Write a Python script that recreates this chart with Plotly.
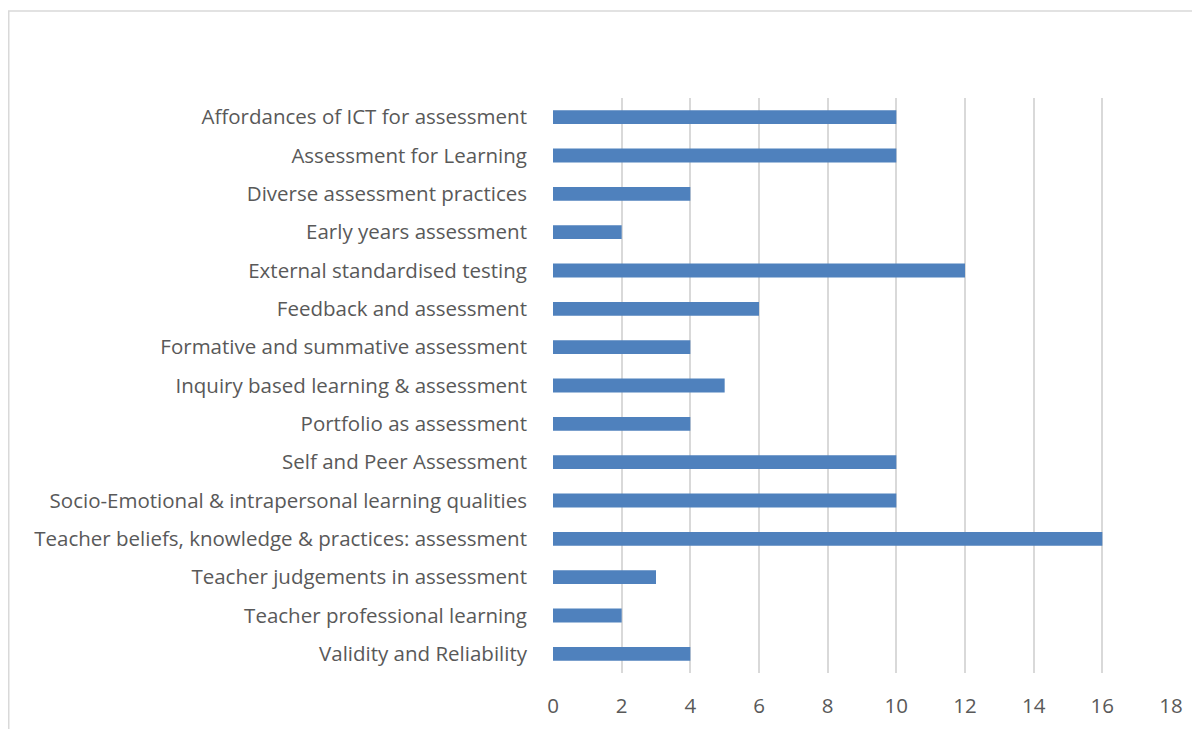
import plotly.graph_objects as go

categories = [
    "Affordances of ICT for assessment",
    "Assessment for Learning",
    "Diverse assessment practices",
    "Early years assessment",
    "External standardised testing",
    "Feedback and assessment",
    "Formative and summative assessment",
    "Inquiry based learning & assessment",
    "Portfolio as assessment",
    "Self and Peer Assessment",
    "Socio-Emotional & intrapersonal learning qualities",
    "Teacher beliefs, knowledge & practices: assessment",
    "Teacher judgements in assessment",
    "Teacher professional learning",
    "Validity and Reliability",
]
values = [10, 10, 4, 2, 12, 6, 4, 5, 4, 10, 10, 16, 3, 2, 4]
x_ticks = [0, 2, 4, 6, 8, 10, 12, 14, 16, 18]

# page offset of 8px (body margin) is subtracted from reference pixel positions
W, H = 1192, 721
L, R, T, B = 545, 1163, 90, 665

fig = go.Figure(go.Bar(
    x=values, y=categories, orientation="h",
    marker=dict(color="#4F81BD", line=dict(width=0)),
    width=0.36,
))

font = dict(family="Open Sans", size=20.5, color="#595959")
fig.update_layout(
    width=W, height=H,
    margin=dict(l=L, r=W - R, t=T, b=H - B, autoexpand=False),
    paper_bgcolor="white", plot_bgcolor="white",
    showlegend=False,
    font=font,
    xaxis=dict(range=[0, 18], tickvals=x_ticks, showgrid=True, gridcolor="#d9d9d9",
               gridwidth=1.5, zeroline=False, showline=False, ticks="",
               ticklabelstandoff=18, tickfont=font),
    yaxis=dict(categoryorder="array", categoryarray=categories[::-1],
               showgrid=False, zeroline=False, showline=False, ticks="",
               ticklabelstandoff=25, tickfont=font),
)

def px2x(px):
    return (px - L) / (R - L)

def py2y(py):
    return 1 - (py - T) / (B - T)

fig.add_shape(type="rect", xref="paper", yref="paper",
              x0=px2x(0.75), x1=px2x(1210), y0=py2y(3), y1=py2y(740),
              line=dict(color="#d9d9d9", width=1.5), fillcolor="rgba(0,0,0,0)", layer="below")

fig.write_html("out.html")
